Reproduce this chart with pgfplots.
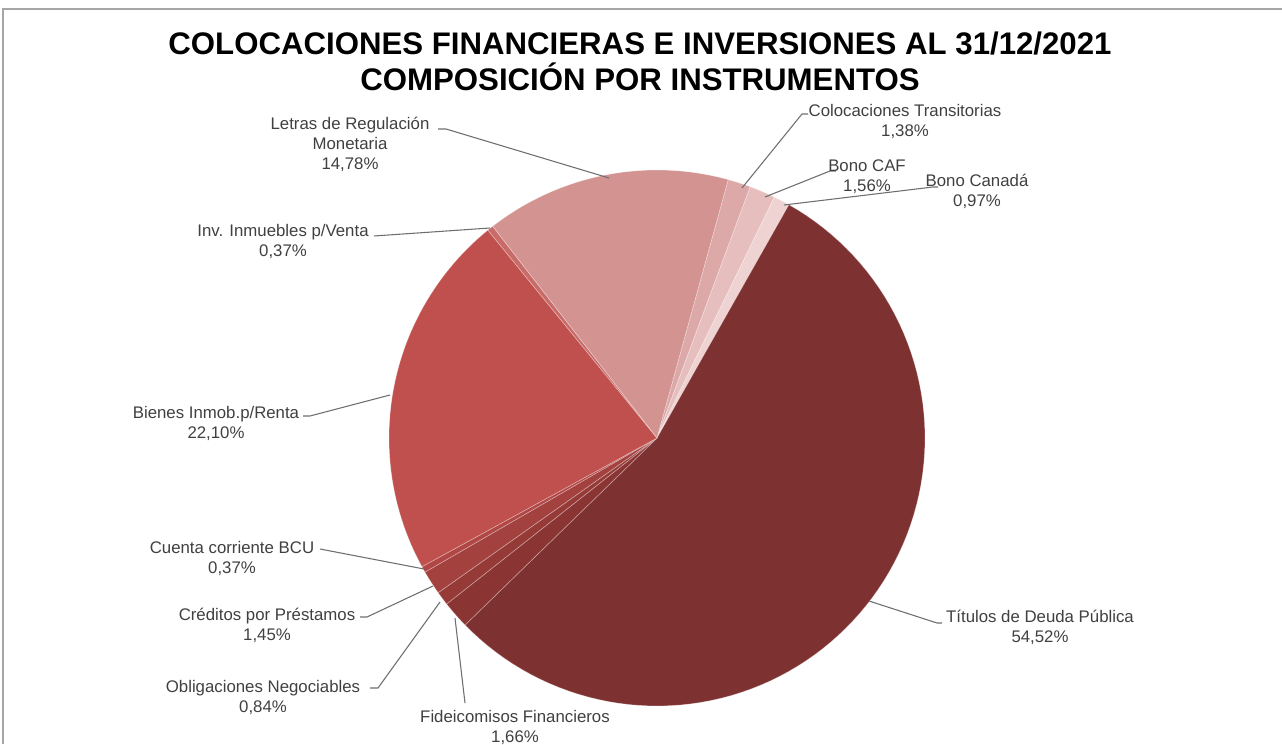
\documentclass[border=0pt]{standalone}
\usepackage{fontspec}
\setmainfont{Liberation Sans}
\usepackage{pgfplots}
\usepackage{pgfplotstable}
\pgfplotsset{compat=1.18}

\definecolor{cCT}{HTML}{DCA8A8}
\definecolor{cCAF}{HTML}{E6BEBE}
\definecolor{cCAN}{HTML}{EFD2D2}
\definecolor{cTIT}{HTML}{7E3131}
\definecolor{cFID}{HTML}{8A3533}
\definecolor{cOBL}{HTML}{963A38}
\definecolor{cCRE}{HTML}{A3413F}
\definecolor{cCTA}{HTML}{B04745}
\definecolor{cBIE}{HTML}{C0504D}
\definecolor{cINV}{HTML}{C96B69}
\definecolor{cLET}{HTML}{D39391}
\definecolor{lblgray}{HTML}{404040}
\definecolor{leader}{HTML}{6E6E6E}

% shares, clockwise from the first slice
\pgfplotstableread{
name val
ColocacionesTransitorias 1.38
BonoCAF 1.56
BonoCanada 0.97
TitulosDeudaPublica 54.52
FideicomisosFinancieros 1.66
ObligacionesNegociables 0.84
CreditosPrestamos 1.45
CuentaCorrienteBCU 0.37
BienesInmobRenta 22.10
InvInmueblesVenta 0.37
LetrasRegulacion 14.78
}\piedata

\def\cumval{0}
\foreach \i in {0,...,10}{%
  \pgfplotstablegetelem{\i}{val}\of\piedata
  \pgfmathsetmacro\angstart{74.6-3.6*\cumval}%
  \pgfmathsetmacro\newcum{\cumval+\pgfplotsretval}%
  \pgfmathsetmacro\angend{74.6-3.6*\newcum}%
  \expandafter\xdef\csname sa\i\endcsname{\angstart}%
  \expandafter\xdef\csname sb\i\endcsname{\angend}%
  \xdef\cumval{\newcum}%
}

\newcommand\pieslice[2]{%
  \edef\pa{\csname sb#1\endcsname}%
  \edef\pb{\csname sa#1\endcsname}%
  \addplot[fill=#2, draw=white, draw opacity=0.35, line width=0.5pt,
    domain=\pa:\pb, samples=90, variable=\t]
    ({657+268*cos(\t)},{306+268*sin(\t)}) -- (axis cs:657,306) -- cycle;
}

\begin{document}
\begin{tikzpicture}
\begin{axis}[hide axis, scale only axis, width=961.5pt, height=558pt,
  xmin=0, xmax=1282, ymin=0, ymax=744, clip=false]
% frame
\draw[color=gray!70, line width=1pt] (axis cs:3,0) -- (axis cs:3,735) -- (axis cs:1282,735);

\pieslice{0}{cCT}
\pieslice{1}{cCAF}
\pieslice{2}{cCAN}
\pieslice{3}{cTIT}
\pieslice{4}{cFID}
\pieslice{5}{cOBL}
\pieslice{6}{cCRE}
\pieslice{7}{cCTA}
\pieslice{8}{cBIE}
\pieslice{9}{cINV}
\pieslice{10}{cLET}

% leader lines (pixel coordinates, y flipped)
\addplot[leader, line width=0.8pt, no marks] coordinates {(742,556) (802,630) (808,630)};
\addplot[leader, line width=0.8pt, no marks] coordinates {(765,547) (830,573) (836,573)};
\addplot[leader, line width=0.8pt, no marks] coordinates {(784,539) (933,557) (938,557)};
\addplot[leader, line width=0.8pt, no marks] coordinates {(609,566) (446,615) (438,615)};
\addplot[leader, line width=0.8pt, no marks] coordinates {(490,516) (374,508)};
\addplot[leader, line width=0.8pt, no marks] coordinates {(390,349) (310,328) (303,328)};
\addplot[leader, line width=0.8pt, no marks] coordinates {(424,175) (320,195)};
\addplot[leader, line width=0.8pt, no marks] coordinates {(433,158) (367,127) (360,127)};
\addplot[leader, line width=0.8pt, no marks] coordinates {(440,142) (378,56) (370,56)};
\addplot[leader, line width=0.8pt, no marks] coordinates {(455,126) (465,41)};
\addplot[leader, line width=0.8pt, no marks] coordinates {(869,143) (937,121) (942,121)};

% title
\node[font=\fontsize{23.4}{27}\selectfont\bfseries] at (axis cs:640,700) {COLOCACIONES FINANCIERAS E INVERSIONES AL 31/12/2021};
\node[font=\fontsize{23.4}{27}\selectfont\bfseries] at (axis cs:640,667) {COMPOSICIÓN POR INSTRUMENTOS};

% labels
\tikzset{lbl/.style={font=\fontsize{12.6}{15}\selectfont, text=lblgray, align=center, inner sep=0pt}}
\node[lbl] at (axis cs:905,623) {Colocaciones Transitorias\\1,38\%};
\node[lbl] at (axis cs:867,567) {Bono CAF\\1,56\%};
\node[lbl] at (axis cs:977,553) {Bono Canadá\\0,97\%};
\node[lbl] at (axis cs:350,600) {Letras de Regulación\\Monetaria\\14,78\%};
\node[lbl] at (axis cs:283,503) {Inv. Inmuebles p/Venta\\0,37\%};
\node[lbl] at (axis cs:216,321) {Bienes Inmob.p/Renta\\22,10\%};
\node[lbl] at (axis cs:232,186) {Cuenta corriente BCU\\0,37\%};
\node[lbl] at (axis cs:267,119) {Créditos por Préstamos\\1,45\%};
\node[lbl] at (axis cs:263,47) {Obligaciones Negociables\\0,84\%};
\node[lbl] at (axis cs:515,17) {Fideicomisos Financieros\\1,66\%};
\node[lbl] at (axis cs:1040,117) {Títulos de Deuda Pública\\54,52\%};
\end{axis}
\pgfresetboundingbox
\path (0,0) rectangle (961.5pt,558pt);
\end{tikzpicture}
\end{document}
